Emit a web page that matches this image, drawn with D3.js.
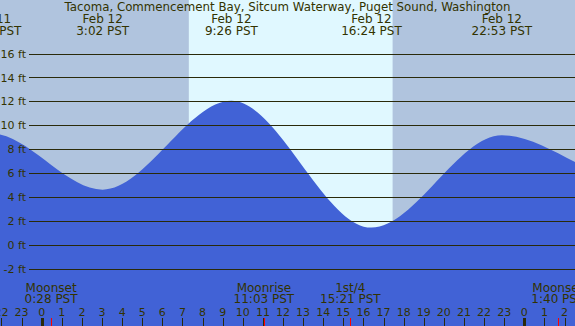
<!DOCTYPE html>
<html>
<head>
<meta charset="utf-8">
<script src="https://cdn.jsdelivr.net/npm/d3@7"></script>
<style>
  body { margin: 0; background: #fff; }
  svg text { font-family: "DejaVu Sans", sans-serif; font-size: 12px; fill: #333300; }
  svg text.ft, svg text.hour { font-size: 11px; }
  svg text.title { font-size: 11.8px; }
</style>
</head>
<body>
<svg id="chart" width="575" height="326"></svg>
<script>
// tide extremes (first two and last two are off the picture, they only shape the ends)
const tideTimes = ["Feb 11 15:40", "Feb 11 21:29", "Feb 12 3:02", "Feb 12 9:26", "Feb 12 16:24", "Feb 12 22:53", "Feb 13 5:12", "Feb 13 10:10"];
const tideHeights = [0.9, 9.3, 4.6, 12.04, 1.43, 9.15, 5.5, 11.8];

// sun
const sunrise = "Feb 12 7:19";
const sunset = "Feb 12 17:27";

// moon events
const moonNames = ["Moonset", "Moonrise", "1st/4", "Moonset"];
const moonTimes = ["Feb 12 0:28", "Feb 12 11:03", "Feb 12 15:21", "Feb 13 1:40"];

// y ticks in ft
const feetTicks = [-2, 0, 2, 4, 6, 8, 10, 12, 14, 16];

const title = "Tacoma, Commencement Bay, Sitcum Waterway, Puget Sound, Washington";

const width = 575, height = 326;
const parse = d3.timeParse("%b %d %H:%M");
const svg = d3.select("#chart");

// scales
const x = d3.scaleTime()
    .domain([parse("Feb 12 0:00"), parse("Feb 13 0:00")])
    .range([41.7, 524.3]);
const y = d3.scaleLinear().domain([-2, 16]).range([268.5, 53.5]);

const tide = tideTimes.map((t, i) => ({ t: parse(t), h: tideHeights[i] }));

// night / day background
svg.append("rect")
    .attr("width", width).attr("height", height)
    .attr("fill", "#b0c4de");
svg.append("rect")
    .attr("x", x(parse(sunrise)))
    .attr("width", x(parse(sunset)) - x(parse(sunrise)))
    .attr("height", height)
    .attr("fill", "#e0f8ff");

// water
const area = d3.area()
    .x(d => x(d.t))
    .y0(height)
    .y1(d => y(d.h))
    .curve(d3.curveMonotoneX);
svg.append("path")
    .datum(tide)
    .attr("d", area)
    .attr("fill", "#4162d6");

// grid lines + ft labels
svg.selectAll("line.grid")
    .data(feetTicks)
    .join("line")
    .attr("class", "grid")
    .attr("x1", 29).attr("x2", width)
    .attr("y1", d => Math.round(y(d)) + 0.5)
    .attr("y2", d => Math.round(y(d)) + 0.5)
    .attr("stroke", "#2a2a0a")
    .attr("stroke-width", 1);
svg.selectAll("text.ft")
    .data(feetTicks)
    .join("text")
    .attr("class", "ft")
    .attr("x", 26)
    .attr("y", d => y(d) + 4.2)
    .attr("text-anchor", "end")
    .text(d => d + " ft");

// title
svg.append("text")
    .attr("class", "title")
    .attr("x", 287.5).attr("y", 11)
    .attr("text-anchor", "middle")
    .text(title);

// high/low labels on top
const fmtDay = d3.timeFormat("%b %-d");
const fmtTime = d3.timeFormat("%-H:%M PST");
const tops = svg.selectAll("g.tide-label")
    .data(tide)
    .join("g")
    .attr("class", "tide-label")
    .attr("transform", d => `translate(${x(d.t)},0)`);
tops.append("text")
    .attr("y", 23.3)
    .attr("text-anchor", "middle")
    .text(d => fmtDay(d.t));
tops.append("text")
    .attr("y", 35)
    .attr("text-anchor", "middle")
    .text(d => fmtTime(d.t));

// moon labels at the bottom
const moon = moonTimes.map((t, i) => ({ t: parse(t), name: moonNames[i] }));
const bots = svg.selectAll("g.moon")
    .data(moon)
    .join("g")
    .attr("class", "moon")
    .attr("transform", d => `translate(${x(d.t)},0)`);
bots.append("text")
    .attr("y", 291.7)
    .attr("text-anchor", "middle")
    .text(d => d.name);
bots.append("text")
    .attr("y", 303.3)
    .attr("text-anchor", "middle")
    .text(d => fmtTime(d.t));
bots.append("line")
    .attr("x1", d => Math.round(x(d.t)) - x(d.t) + 0.5)
    .attr("x2", d => Math.round(x(d.t)) - x(d.t) + 0.5)
    .attr("y1", 318).attr("y2", height)
    .attr("stroke", "#ff0000");

// hour ticks
const hours = d3.timeHour.range(parse("Feb 11 22:00"), parse("Feb 13 3:00"));
svg.selectAll("text.hour")
    .data(hours)
    .join("text")
    .attr("class", "hour")
    .attr("x", d => x(d))
    .attr("y", 315.7)
    .attr("text-anchor", "middle")
    .text(d => d.getHours());
svg.selectAll("line.hour")
    .data(hours)
    .join("line")
    .attr("class", "hour")
    .attr("x1", d => Math.round(x(d)) + 0.5)
    .attr("x2", d => Math.round(x(d)) + 0.5)
    .attr("y1", 318).attr("y2", height)
    .attr("stroke", "#2a2a0a")
    .attr("stroke-width", d => d.getHours() === 0 ? 3 : 1);
</script>
</body>
</html>
